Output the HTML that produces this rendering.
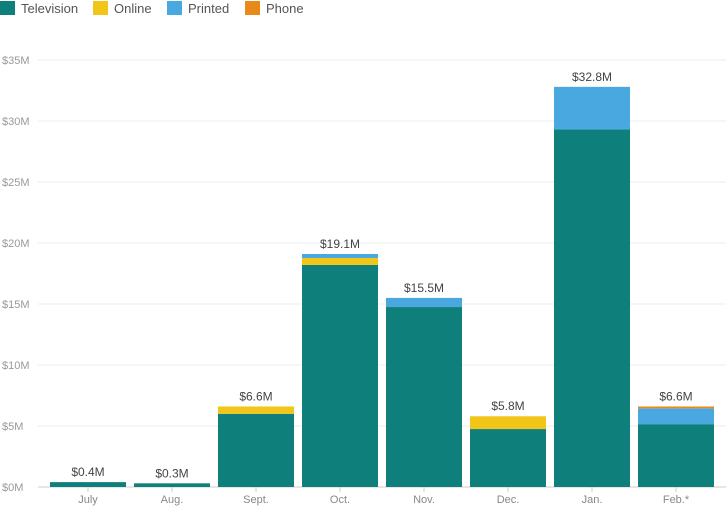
<!DOCTYPE html>
<html><head><meta charset="utf-8"><style>
body{margin:0;background:#fff;font-family:"Liberation Sans",sans-serif;}
svg{display:block}
</style></head><body>
<svg id="c" width="726" height="507"></svg>
<script>
const categories=["July","Aug.","Sept.","Oct.","Nov.","Dec.","Jan.","Feb.*"];
const television=[0.4,0.3,6.0,18.2,14.75,4.75,29.3,5.15];
const online=[0,0,0.6,0.57,0,1.05,0,0];
const printed=[0,0,0,0.33,0.75,0,3.5,1.3];
const phone=[0,0,0,0,0,0,0,0.15];
const totalLabels=["$0.4M","$0.3M","$6.6M","$19.1M","$15.5M","$5.8M","$32.8M","$6.6M"];
const yTicks=[0,5,10,15,20,25,30,35];
const seriesNames=["Television","Online","Printed","Phone"];
const colors=["#0e7f7a","#f2c619","#4aa8e0","#e8891a"];
const series=[television,online,printed,phone];
const NS="http://www.w3.org/2000/svg";
const svg=document.getElementById('c');
const y0=487,y1=60,yMax=35,x0=46,slot=84,bw=76;
const Y=v=>y0-(v/yMax)*(y0-y1);
const X=i=>x0+i*slot+(slot-bw)/2;
function el(t,a,txt){const e=document.createElementNS(NS,t);for(const k in a)e.setAttribute(k,a[k]);if(txt!=null)e.textContent=txt;svg.appendChild(e);return e;}
yTicks.forEach(t=>{
 const g=el('line',{x1:38,x2:726,y1:Y(t),y2:Y(t),stroke:t?'#ececec':'#cccccc','stroke-width':1});
 
 
 const l=el('text',{x:2,y:Y(t)+4,'font-size':11,fill:'#999'},'$'+t+'M');
 
 
});
categories.forEach((c,i)=>{
 let acc=0;
 series.forEach((s,k)=>{
  if(s[i]<=0)return;
  const r=el('rect',{x:X(i),y:Y(acc+s[i]),width:bw,height:Y(acc)-Y(acc+s[i]),fill:colors[k]});
  
  
  acc+=s[i];
 });
 const v=el('text',{x:X(i)+bw/2,y:Y(acc)-6,'font-size':12,fill:'#444','text-anchor':'middle'},totalLabels[i]);
 
 
 const tk=el('line',{x1:X(i)+bw/2,x2:X(i)+bw/2,y1:y0,y2:y0+5,stroke:'#ccc'});
 
 
 const xl=el('text',{x:X(i)+bw/2,y:503,'font-size':11,fill:'#888','text-anchor':'middle'},c);
 
 
});
const lx=[0,93,167,245];
seriesNames.forEach((n,k)=>{
 const r=el('rect',{x:lx[k],y:1,width:15,height:14,fill:colors[k]});
 
 
 const t=el('text',{x:lx[k]+21,y:13,'font-size':13,fill:'#555'},n);
 
 
});
</script>
</body></html>
